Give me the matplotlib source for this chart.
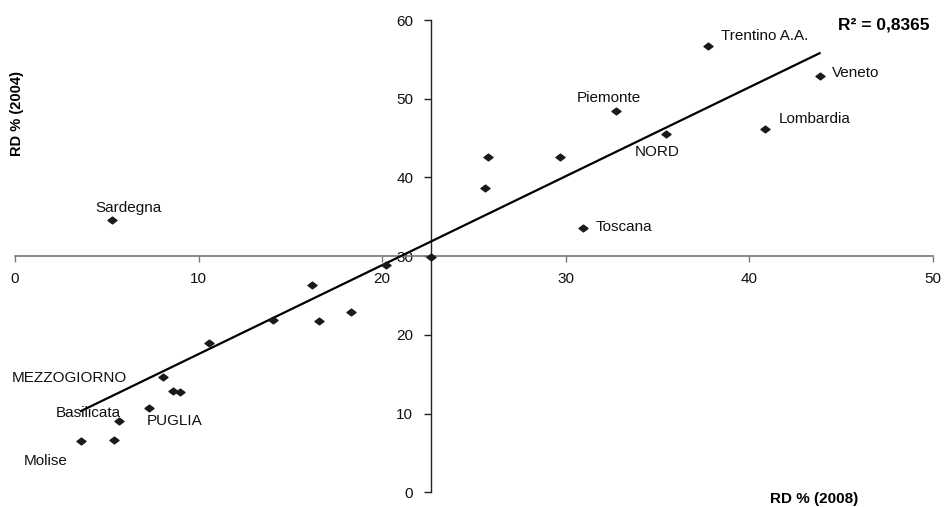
import matplotlib
matplotlib.use('Agg')
import matplotlib.pyplot as plt
import numpy as np
from matplotlib.path import Path

plt.rcParams['font.family'] = ['Liberation Sans', 'DejaVu Sans']

# RD % 2008 (x) vs RD % 2004 (y)
REGIONS = ['Sardegna', '', 'Trentino A.A.', 'Veneto', 'Piemonte', 'Lombardia',
           'NORD', '', '', '', 'Toscana', '', '', '', '', '', '',
           'MEZZOGIORNO', '', '', 'PUGLIA', 'Basilicata', 'Molise', '']
RD_2008 = [5.30, 22.68, 37.74, 43.82, 32.75, 40.86, 35.47, 25.77, 29.67, 25.60,
           30.92, 20.18, 16.19, 14.06, 16.55, 18.31, 10.58, 8.07, 8.58, 8.98,
           7.28, 5.66, 3.59, 5.37]
RD_2004 = [34.6, 29.94, 56.75, 52.9, 48.45, 46.2, 45.5, 42.64, 42.64, 38.6,
           33.6, 28.9, 26.3, 21.9, 21.77, 22.95, 19.0, 14.7, 12.9, 12.74,
           10.67, 9.06, 6.5, 6.65]
R2_TEXT = 'R² = 0,8365'
X_TICKS = [0, 10, 20, 30, 40, 50]
Y_TICKS = [0, 10, 20, 30, 40, 50, 60]
X_CROSS = 30      # x axis drawn at y = 30
Y_CROSS = 22.68   # y axis drawn at x = 22.68

# label placement: (dx px, dy px, ha)
LABEL_POS = {
    'Sardegna':      (-17, 12, 'left'),
    'Trentino A.A.': (13, 10, 'left'),
    'Veneto':        (12, 3, 'left'),
    'Piemonte':      (-40, 13, 'left'),
    'Lombardia':     (14, 10, 'left'),
    'NORD':          (-31, -18, 'left'),
    'Toscana':       (13, 1, 'left'),
    'MEZZOGIORNO':   (-36, -1, 'right'),
    'PUGLIA':        (-2, -13, 'left'),
    'Basilicata':    (2, 8, 'right'),
    'Molise':        (-13, -20, 'right'),
}
FS = 11

DIAMOND = Path([(-1, 0), (0, 0.75), (1, 0), (0, -0.75), (-1, 0)],
               [Path.MOVETO, Path.LINETO, Path.LINETO, Path.LINETO, Path.CLOSEPOLY])

fig = plt.figure(figsize=(9.44, 5.07), dpi=100)
ax = fig.add_axes([15 / 944, 14.7 / 507, 918 / 944, 472.3 / 507])
ax.set_xlim(0, 50)
ax.set_ylim(0, 60)

x = np.array(RD_2008)
y = np.array(RD_2004)

ax.plot(x, y, linestyle='none', marker=DIAMOND, ms=6.5, color='#1a1a1a',
        zorder=4, clip_on=False)

# linear trendline over the data range
slope, icept = np.polyfit(x, y, 1)
xs = np.array([x.min(), x.max()])
ax.plot(xs, slope * xs + icept, color='black', lw=1.6, zorder=3)

for name, xi, yi in zip(REGIONS, x, y):
    if not name:
        continue
    dx, dy, ha = LABEL_POS[name]
    ax.annotate(name, (xi, yi), xytext=(dx * 0.72, dy * 0.72),
                textcoords='offset points', ha=ha, va='center',
                fontsize=FS, color='#111111')

ax.spines['top'].set_visible(False)
ax.spines['right'].set_visible(False)
ax.spines['bottom'].set_position(('data', X_CROSS))
ax.spines['left'].set_position(('data', Y_CROSS))
ax.spines['bottom'].set_color('#777777')
ax.spines['left'].set_color('#222222')
ax.spines['bottom'].set_linewidth(1.2)
ax.spines['left'].set_linewidth(1.0)

ax.set_xticks(X_TICKS)
ax.set_yticks(Y_TICKS)
ax.tick_params(axis='x', direction='out', length=4, width=1, color='#777777',
               pad=7.5, labelsize=FS, labelcolor='#111111')
ax.tick_params(axis='y', direction='out', length=5, width=1, color='#222222',
               pad=8, labelsize=FS, labelcolor='#111111')

ax.text(44.85, 59.4, R2_TEXT, fontsize=12.5, fontweight='bold', ha='left', va='center')
fig.text(17 / 944, 1 - 114 / 507, 'RD % (2004)', rotation=90, fontsize=10.5,
         fontweight='bold', ha='center', va='center')
fig.text(814 / 944, 1 - 499 / 507, 'RD % (2008)', fontsize=11,
         fontweight='bold', ha='center', va='center')

fig.savefig('out.png', dpi=100)
